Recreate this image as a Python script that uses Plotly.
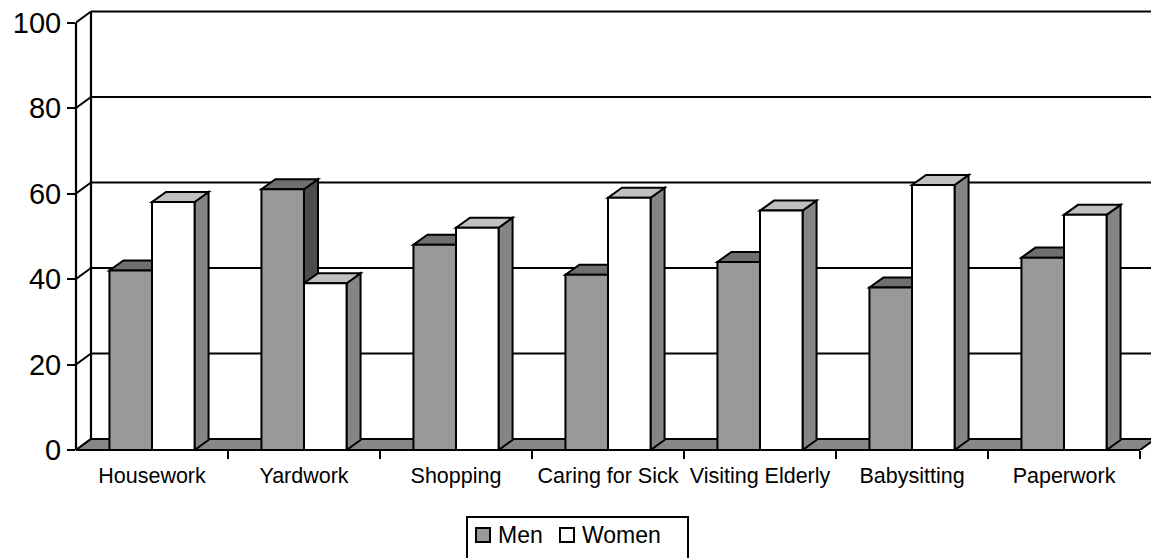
import plotly.graph_objects as go

categories = ["Housework", "Yardwork", "Shopping", "Caring for Sick",
              "Visiting Elderly", "Babysitting", "Paperwork"]
men = [42, 61, 48, 41, 44, 38, 45]
women = [58, 39, 52, 59, 56, 62, 55]
y_ticks = [0, 20, 40, 60, 80, 100]

# layout geometry (pixels)
W, H = 1151, 558
ML, MT, MB, MR = 76, 0, 108, 0
PW, PH = W - ML - MR, H - MT - MB
PX_X = 152.0          # pixels per category
PX_Y = 4.275          # pixels per value unit
x_lo = -0.5
x_hi = x_lo + PW / PX_X
y_top = PH / PX_Y

BW = 0.28                       # bar width (category units)
dxb, dyb = 14 / PX_X, 10 / PX_Y  # bar depth
dxw, dyw = 15 / PX_X, 11 / PX_Y  # wall/floor depth

FONT = "Liberation Sans, Arial, sans-serif"

def poly(pts):
    return "M " + " L ".join(f"{x},{y}" for x, y in pts) + " Z"

shapes = []
# back wall gridlines
for v in y_ticks:
    shapes.append(dict(type="line", xref="x", yref="y", layer="below",
                       x0=x_lo + dxw, x1=x_hi + 1, y0=v + dyw, y1=v + dyw,
                       line=dict(color="black", width=2.2)))
# left wall vertical and connectors
shapes.append(dict(type="line", xref="x", yref="y", layer="below",
                   x0=x_lo + dxw, x1=x_lo + dxw, y0=dyw, y1=y_ticks[-1] + dyw,
                   line=dict(color="black", width=2.2)))
for v in y_ticks:
    shapes.append(dict(type="line", xref="x", yref="y", layer="below",
                       x0=x_lo, x1=x_lo + dxw, y0=v, y1=v + dyw,
                       line=dict(color="black", width=2)))
# floor
n = len(categories)
x_end = n - 0.5
shapes.append(dict(type="path", xref="x", yref="y", layer="below",
                   path=poly([(x_lo, 0), (x_end, 0), (x_end + dxw, dyw), (x_lo + dxw, dyw)]),
                   fillcolor="#878787", line=dict(color="black", width=2)))

# 3D faces of bars
def faces(x0, x1, v, top_col, side_col):
    out = []
    out.append(dict(type="path", xref="x", yref="y", layer="below",
                    path=poly([(x1, 0), (x1 + dxb, dyb), (x1 + dxb, v + dyb), (x1, v)]),
                    fillcolor=side_col, line=dict(color="black", width=2)))
    out.append(dict(type="path", xref="x", yref="y", layer="below",
                    path=poly([(x0, v), (x1, v), (x1 + dxb, v + dyb), (x0 + dxb, v + dyb)]),
                    fillcolor=top_col, line=dict(color="black", width=2)))
    return out

for i in range(n):
    shapes += faces(i - BW, i, men[i], "#6f6f6f", "#4d4d4d")
    shapes += faces(i, i + BW, women[i], "#c0c0c0", "#858585")

# front axis lines (paper refs so they are not clipped)
shapes.append(dict(type="line", xref="paper", yref="paper", layer="above",
                   x0=0, x1=0, y0=0, y1=y_ticks[-1] / y_top,
                   line=dict(color="black", width=2.2)))
shapes.append(dict(type="line", xref="paper", yref="paper", layer="above",
                   x0=0, x1=(x_end - x_lo) / (x_hi - x_lo), y0=0, y1=0,
                   line=dict(color="black", width=2.2)))

# manual legend
def pxx(p):
    return (p - ML) / PW

def pxy(p):
    return (MT + PH - p) / PH

shapes.append(dict(type="rect", xref="paper", yref="paper", layer="above",
                   x0=pxx(467), x1=pxx(688), y0=pxy(575), y1=pxy(517),
                   fillcolor="white", line=dict(color="black", width=2)))
shapes.append(dict(type="rect", xref="paper", yref="paper", layer="above",
                   x0=pxx(476), x1=pxx(490), y0=pxy(542), y1=pxy(528),
                   fillcolor="#999999", line=dict(color="black", width=2)))
shapes.append(dict(type="rect", xref="paper", yref="paper", layer="above",
                   x0=pxx(560), x1=pxx(574), y0=pxy(542), y1=pxy(528),
                   fillcolor="white", line=dict(color="black", width=2)))
annotations = [
    dict(xref="paper", yref="paper", x=pxx(496), y=pxy(535), text="Men",
         showarrow=False, xanchor="left", yanchor="middle",
         font=dict(family=FONT, size=23, color="black")),
    dict(xref="paper", yref="paper", x=pxx(580), y=pxy(535), text="Women",
         showarrow=False, xanchor="left", yanchor="middle",
         font=dict(family=FONT, size=23, color="black")),
]

fig = go.Figure()
fig.add_trace(go.Bar(x=list(range(n)), y=men, name="Men", width=BW, offset=-BW,
                     marker=dict(color="#999999", line=dict(color="black", width=2))))
fig.add_trace(go.Bar(x=list(range(n)), y=women, name="Women", width=BW, offset=0,
                     marker=dict(color="white", line=dict(color="black", width=2))))

fig.update_layout(
    width=W, height=H,
    margin=dict(l=ML, r=MR, t=MT, b=MB),
    paper_bgcolor="white", plot_bgcolor="white",
    showlegend=False,
    barmode="overlay",
    shapes=shapes,
    annotations=annotations,
    xaxis=dict(range=[x_lo, x_hi], tickvals=list(range(n)), ticktext=categories,
               showgrid=False, zeroline=False, showline=False,
               ticks="outside", ticklen=6, tickcolor="rgba(0,0,0,0)",
               tickfont=dict(family=FONT, size=21.5, color="black"),
               minor=dict(tickvals=[i + 0.5 for i in range(n)], ticks="outside",
                          ticklen=8, tickwidth=2, tickcolor="black", showgrid=False)),
    yaxis=dict(range=[0, y_top], tickvals=y_ticks, showgrid=False, zeroline=False,
               showline=False, ticks="outside", ticklen=8, tickwidth=2,
               tickcolor="black",
               tickfont=dict(family=FONT, size=29, color="black")),
)

fig.write_html("out.html")
